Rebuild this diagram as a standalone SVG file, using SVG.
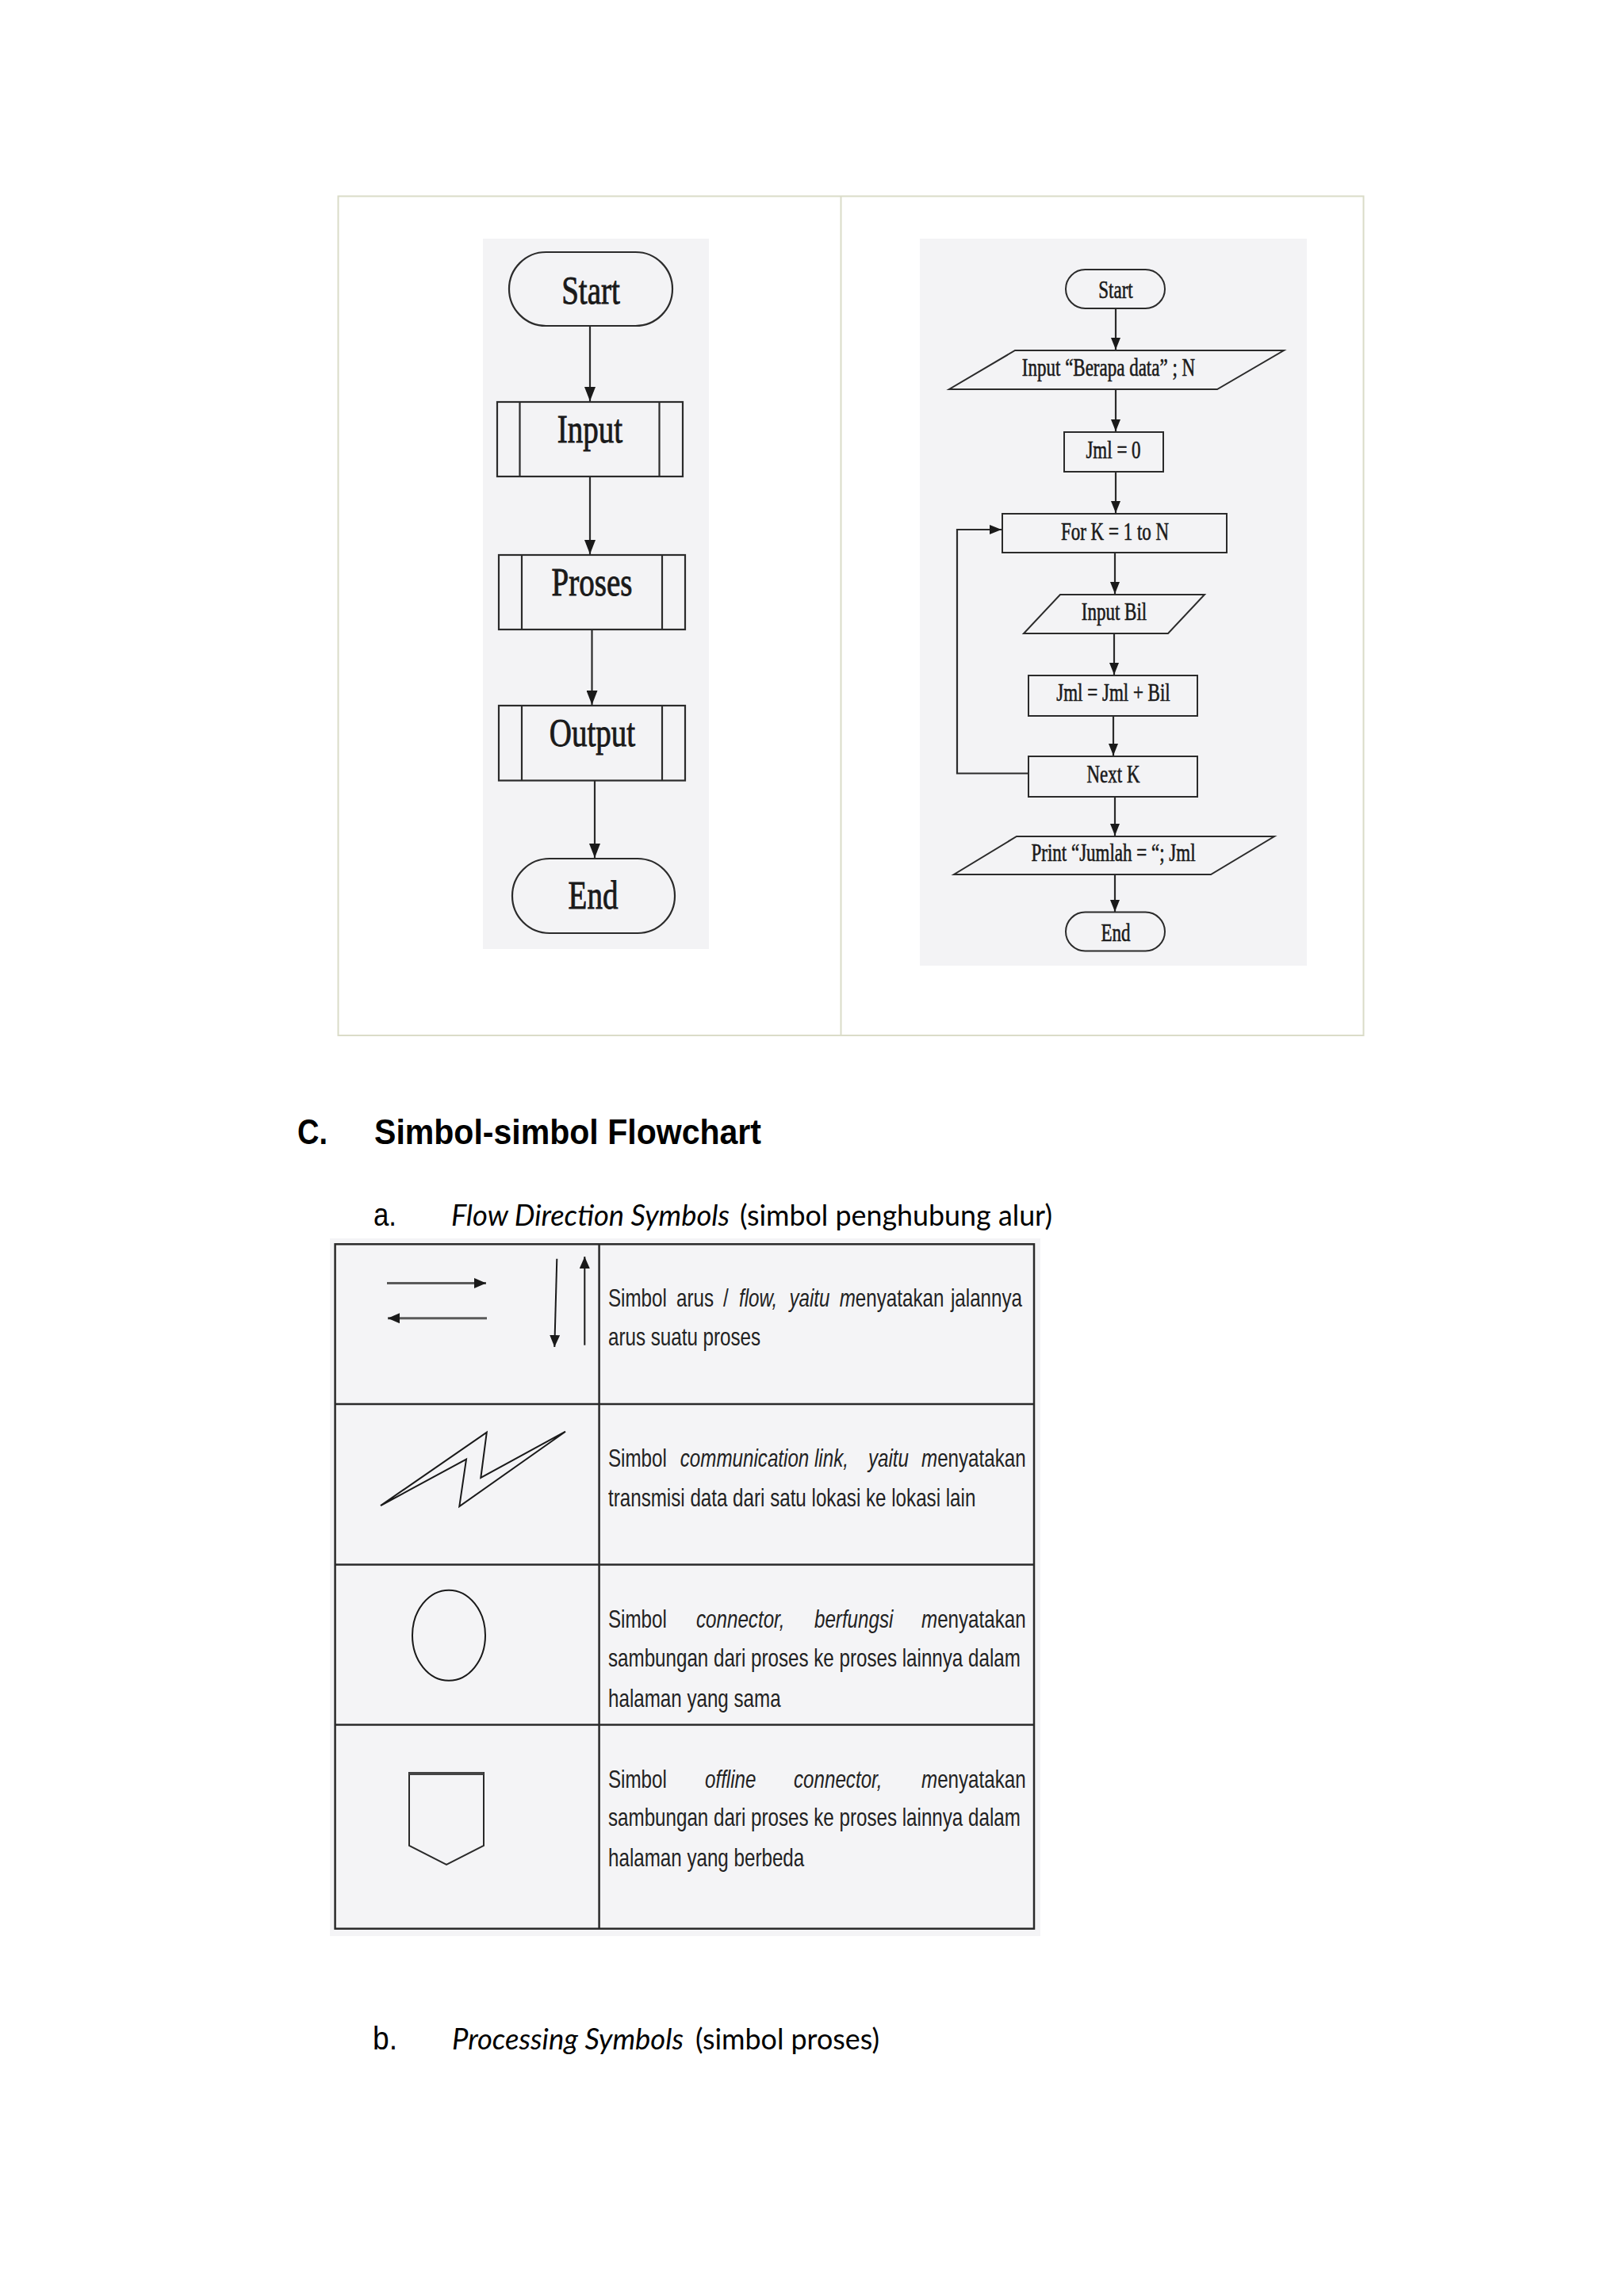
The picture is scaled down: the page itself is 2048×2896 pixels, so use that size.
<svg xmlns="http://www.w3.org/2000/svg" width="2048" height="2896" viewBox="0 0 2048 2896">
<style>
.sh{fill:none;stroke:#2b2b2b;stroke-width:2.2}
.sh2{fill:none;stroke:#2b2b2b;stroke-width:2}
.ft{font-family:"Liberation Serif","Times New Roman",serif;font-size:39px;fill:#1a1a1a;stroke:#1a1a1a;stroke-width:0.7px;text-anchor:middle}
.rt{font-family:"Liberation Serif","Times New Roman",serif;font-size:23px;fill:#1a1a1a;stroke:#1a1a1a;stroke-width:0.45px;text-anchor:middle}
.cn{fill:none;stroke:#2b2b2b;stroke-width:2.2}
.tb{fill:none;stroke:#2a2a2a;stroke-width:2.5}
.tx{font-family:"Liberation Sans",Arial,sans-serif;font-size:31px;fill:#222}
.it{font-style:italic}
.hd{font-family:"Liberation Sans",Arial,sans-serif;font-weight:bold;font-size:44px;fill:#000}
.lb{font-family:"Liberation Sans",Arial,sans-serif;font-size:40px;fill:#000}
.sub{font-family:Lato,"Open Sans",sans-serif;font-size:37px;fill:#000}
</style>
<defs>
<marker id="ahL" markerUnits="userSpaceOnUse" markerWidth="18" markerHeight="14" refX="18" refY="7" orient="auto"><path d="M0,0 L18,7 L0,14 Z" fill="#1a1a1a"/></marker>
<marker id="ahR" markerUnits="userSpaceOnUse" markerWidth="15" markerHeight="12" refX="15" refY="6" orient="auto"><path d="M0,0 L15,6 L0,12 Z" fill="#1a1a1a"/></marker>
<marker id="ahT" markerUnits="userSpaceOnUse" markerWidth="15" markerHeight="13" refX="15" refY="6.5" orient="auto"><path d="M0,0 L15,6.5 L0,13 Z" fill="#1a1a1a"/></marker>
</defs>
<rect x="0" y="0" width="2048" height="2896" fill="#ffffff"/>

<!-- frame -->
<g id="frame">
<rect x="426.5" y="247.5" width="1293" height="1058.5" fill="none" stroke="#dadcc8" stroke-width="2"/>
<line x1="1060.5" y1="247.5" x2="1060.5" y2="1306" stroke="#dadcc8" stroke-width="2"/>
<rect x="609" y="301" width="285" height="896" fill="#f3f3f5"/>
<rect x="1160" y="301" width="488" height="917" fill="#f3f3f5"/>
</g>

<!-- left flowchart -->
<g id="L-start"><rect class="sh" x="642" y="318" width="206" height="93" rx="46.5"/><text class="ft" transform="translate(745,382.6) scale(1,1.3)">Start</text></g>
<g id="L-input"><rect class="sh" x="627" y="507" width="234" height="94"/><line class="sh" x1="655.5" y1="507" x2="655.5" y2="601"/><line class="sh" x1="831.5" y1="507" x2="831.5" y2="601"/><text class="ft" transform="translate(744,558) scale(1,1.3)">Input</text></g>
<g id="L-proses"><rect class="sh" x="629" y="700" width="235" height="94"/><line class="sh" x1="658" y1="700" x2="658" y2="794"/><line class="sh" x1="835" y1="700" x2="835" y2="794"/><text class="ft" transform="translate(746.5,751) scale(1,1.3)">Proses</text></g>
<g id="L-output"><rect class="sh" x="629" y="890" width="235" height="94.5"/><line class="sh" x1="658" y1="890" x2="658" y2="984.5"/><line class="sh" x1="835" y1="890" x2="835" y2="984.5"/><text class="ft" transform="translate(747,941) scale(1,1.3)">Output</text></g>
<g id="L-end"><rect class="sh" x="646" y="1083" width="205" height="94" rx="47"/><text class="ft" transform="translate(748,1146) scale(1,1.3)">End</text></g>

<!-- right flowchart -->
<g id="R-start"><rect class="sh2" x="1344" y="340" width="125" height="49" rx="24.5"/><text class="rt" transform="translate(1407,376) scale(1,1.33)">Start</text></g>
<g id="R-input"><polygon class="sh2" points="1280,442 1619,442 1535,491 1197,491"/><text class="rt" transform="translate(1398,473.5) scale(1,1.33)">Input “Berapa data” ; N</text></g>
<g id="R-jml0"><rect class="sh2" x="1342" y="545" width="125" height="50"/><text class="rt" transform="translate(1404,577.5) scale(1,1.33)">Jml = 0</text></g>
<g id="R-for"><rect class="sh2" x="1264" y="648" width="283" height="49"/><text class="rt" transform="translate(1406,680.8) scale(1,1.33)">For K = 1 to N</text></g>
<g id="R-inputbil"><polygon class="sh2" points="1337,750 1519,750 1473,799 1291,799"/><text class="rt" transform="translate(1405,782) scale(1,1.33)">Input Bil</text></g>
<g id="R-jmlbil"><rect class="sh2" x="1297" y="852" width="213" height="51"/><text class="rt" transform="translate(1404,884) scale(1,1.33)">Jml = Jml + Bil</text></g>
<g id="R-nextk"><rect class="sh2" x="1297" y="954" width="213" height="51"/><text class="rt" transform="translate(1404,987) scale(1,1.33)">Next K</text></g>
<g id="R-print"><polygon class="sh2" points="1282,1055 1607,1055 1527,1103 1203,1103"/><text class="rt" transform="translate(1404,1086) scale(1,1.33)">Print “Jumlah = “; Jml</text></g>
<g id="R-end"><rect class="sh2" x="1344" y="1150.5" width="125" height="49" rx="24.5"/><text class="rt" transform="translate(1407,1187) scale(1,1.33)">End</text></g>

<!-- connectors -->
<g id="connectors">
<line class="cn" x1="744" y1="411" x2="744" y2="506" marker-end="url(#ahL)"/>
<line class="cn" x1="744" y1="601" x2="744" y2="699" marker-end="url(#ahL)"/>
<line class="cn" x1="746.5" y1="794" x2="746.5" y2="889" marker-end="url(#ahL)"/>
<line class="cn" x1="750" y1="984.5" x2="750" y2="1082" marker-end="url(#ahL)"/>

<line class="cn" x1="1407" y1="389" x2="1407" y2="441" marker-end="url(#ahR)"/>
<line class="cn" x1="1407" y1="491" x2="1407" y2="544" marker-end="url(#ahR)"/>
<line class="cn" x1="1407" y1="595" x2="1407" y2="647" marker-end="url(#ahR)"/>
<line class="cn" x1="1406" y1="697" x2="1406" y2="749" marker-end="url(#ahR)"/>
<line class="cn" x1="1405" y1="799" x2="1405" y2="851" marker-end="url(#ahR)"/>
<line class="cn" x1="1404" y1="903" x2="1404" y2="953" marker-end="url(#ahR)"/>
<line class="cn" x1="1406" y1="1005" x2="1406" y2="1054" marker-end="url(#ahR)"/>
<line class="cn" x1="1406" y1="1103" x2="1406" y2="1150" marker-end="url(#ahR)"/>
<polyline class="cn" points="1297,975.5 1207,975.5 1207,668 1263,668" marker-end="url(#ahR)"/>
</g>

<!-- headings -->
<g id="headings">
<text class="hd" x="375" y="1443" textLength="38" lengthAdjust="spacingAndGlyphs">C.</text>
<text class="hd" x="472" y="1443" textLength="488" lengthAdjust="spacingAndGlyphs">Simbol-simbol Flowchart</text>
<text class="lb" x="471" y="1546" textLength="29" lengthAdjust="spacingAndGlyphs">a.</text>
<text class="sub it" x="569" y="1546" textLength="351" lengthAdjust="spacingAndGlyphs">Flow Direction Symbols</text>
<text class="sub" x="933" y="1546" textLength="394" lengthAdjust="spacingAndGlyphs">(simbol penghubung alur)</text>
<text class="lb" x="470" y="2585" textLength="31" lengthAdjust="spacingAndGlyphs">b.</text>
<text class="sub it" x="570" y="2585" textLength="292" lengthAdjust="spacingAndGlyphs">Processing Symbols</text>
<text class="sub" x="877" y="2585" textLength="232" lengthAdjust="spacingAndGlyphs">(simbol proses)</text>
</g>

<!-- table -->
<g id="table">
<rect x="416" y="1562" width="896" height="880" fill="#f4f4f6"/>
<rect class="tb" x="422.6" y="1569.3" width="881.4" height="863.4"/>
<line class="tb" x1="755.6" y1="1569.3" x2="755.6" y2="2432.7"/>
<line class="tb" x1="422.6" y1="1771" x2="1304" y2="1771"/>
<line class="tb" x1="422.6" y1="1973.5" x2="1304" y2="1973.5"/>
<line class="tb" x1="422.6" y1="2175.5" x2="1304" y2="2175.5"/>
</g>

<g id="sym-flow">
<line x1="488" y1="1618.5" x2="613" y2="1618.5" stroke="#5a5a5a" stroke-width="3" marker-end="url(#ahT)"/>
<line x1="614" y1="1662.7" x2="489" y2="1662.7" stroke="#5a5a5a" stroke-width="3" marker-end="url(#ahT)"/>
<line x1="702.3" y1="1587.7" x2="699.3" y2="1699" stroke="#1a1a1a" stroke-width="2" marker-end="url(#ahT)"/>
<line x1="737.3" y1="1696.7" x2="737.3" y2="1585" stroke="#1a1a1a" stroke-width="2" marker-end="url(#ahT)"/>
</g>
<g id="sym-link"><polygon points="480,1899 613.8,1806.7 606.3,1864 713,1805.7 579.3,1900 588,1840.7" fill="none" stroke="#1a1a1a" stroke-width="2" stroke-linejoin="miter"/></g>
<g id="sym-connector"><ellipse cx="566" cy="2062.7" rx="46" ry="57" fill="none" stroke="#1a1a1a" stroke-width="2"/></g>
<g id="sym-offpage"><polygon points="516,2236 610,2236 610,2328 563,2352 516,2328" fill="none" stroke="#2a2a2a" stroke-width="2"/><line x1="516" y1="2237" x2="610" y2="2237" stroke="#444" stroke-width="4"/></g>

<g id="desc-flow">
<text class="tx" transform="translate(767,1648.3) scale(0.78,1)"><tspan x="0">Simbol</tspan><tspan x="110.3">arus</tspan><tspan x="185.9">/</tspan><tspan x="211.5" class="it">flow,</tspan><tspan x="292.9" class="it">yaitu</tspan><tspan x="374"><tspan class="it">m</tspan>enyatakan</tspan><tspan x="553.8">jalannya</tspan></text>
<text class="tx" transform="translate(767,1696.7) scale(0.78,1)">arus suatu proses</text>
</g>
<g id="desc-link">
<text class="tx" transform="translate(767,1850) scale(0.78,1)"><tspan x="0">Simbol</tspan><tspan x="116.4" class="it">communication link,</tspan><tspan x="420.5" class="it">yaitu</tspan><tspan x="506.4"><tspan class="it">m</tspan>enyatakan</tspan></text>
<text class="tx" transform="translate(767,1900) scale(0.78,1)">transmisi data dari satu lokasi ke lokasi lain</text>
</g>
<g id="desc-connector">
<text class="tx" transform="translate(767,2052.7) scale(0.78,1)"><tspan x="0">Simbol</tspan><tspan x="142.3" class="it">connector,</tspan><tspan x="333.3" class="it">berfungsi</tspan><tspan x="506.4"><tspan class="it">m</tspan>enyatakan</tspan></text>
<text class="tx" transform="translate(767,2101.7) scale(0.78,1)">sambungan dari proses ke proses lainnya dalam</text>
<text class="tx" transform="translate(767,2152.7) scale(0.78,1)">halaman yang sama</text>
</g>
<g id="desc-offpage">
<text class="tx" transform="translate(767,2255) scale(0.78,1)"><tspan x="0">Simbol</tspan><tspan x="156.4" class="it">offline</tspan><tspan x="300" class="it">connector,</tspan><tspan x="506.4"><tspan class="it">m</tspan>enyatakan</tspan></text>
<text class="tx" transform="translate(767,2303) scale(0.78,1)">sambungan dari proses ke proses lainnya dalam</text>
<text class="tx" transform="translate(767,2354) scale(0.78,1)">halaman yang berbeda</text>
</g>
</svg>
